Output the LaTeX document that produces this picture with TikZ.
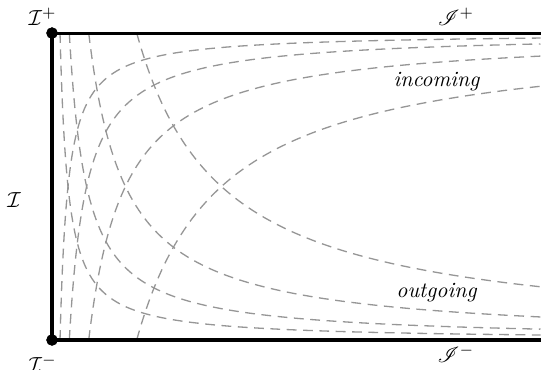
\documentclass[tikz,border=0pt]{standalone}
\usepackage{tikz}
\usetikzlibrary{positioning,calc}
\usepackage{amsmath,amssymb}
\usepackage{mathrsfs}
\usepackage{xcolor}
\definecolor{raycol}{RGB}{150,150,150}

\begin{document}
\begin{tikzpicture}[
    bdry/.style={line width=1.4pt, black},
    ray/.style={semithick, color=raycol, dash pattern=on 4.5pt off 3pt},
    dotnode/.style={circle, fill=black, inner sep=0pt, minimum size=5.2pt},
    tag/.style={font=\normalsize, inner sep=1pt},
]
\useasboundingbox (0,0) rectangle (8.726,5.952);

% ============ CORNERS & EDGES ============
\coordinate (tr) at (8.726,5.419);
\coordinate (br) at (8.726,0.468);
\node[dotnode] (Ip) at (0.839,5.419) {};
\node[dotnode] (Im) at (0.839,0.468) {};

% ============ INCOMING RAYS (u h = const) ============
\foreach \a in {0.129,0.279,0.592,1.366} {
    \pgfmathsetmacro\tmax{ln(7.887/\a)}
    \draw[ray] plot[domain=0:\tmax, samples=70, smooth, variable=\t]
        ({0.839+\a*exp(\t)}, {5.419-4.951*exp(-\t)});
}

% ============ OUTGOING RAYS ============
\foreach \a in {0.129,0.279,0.592,1.366} {
    \pgfmathsetmacro\tmax{ln(7.887/\a)}
    \draw[ray] plot[domain=0:\tmax, samples=70, smooth, variable=\t]
        ({0.839+\a*exp(\t)}, {0.468+4.951*exp(-\t)});
}

% boundary
\draw[bdry] (tr) -- (Ip.center) -- (Im.center) -- (br);
\node[dotnode] at (Ip) {};
\node[dotnode] at (Im) {};

% ============ LABELS ============
\node[tag] (lIp) at ($(Ip)+(-0.15,0.26)$) {$\mathcal{I}^+$};
\node[tag] (lIm) at ($(Im)+(-0.15,-0.38)$) {$\mathcal{I}^-$};
\node[tag] (lI) at (0.226,2.726) {$\mathcal{I}$};
\node[tag] (lSp) at (7.355,5.677) {$\mathscr{I}^+$};
\node[tag] (lSm) at (7.355,0.25) {$\mathscr{I}^-$};
\node[tag, font=\itshape] (lin) at (7.04,4.63) {incoming};
\node[tag, font=\itshape] (lout) at (7.04,1.24) {outgoing};

\end{tikzpicture}
\end{document}
